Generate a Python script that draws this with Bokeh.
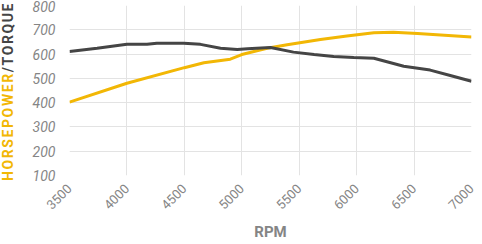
import math
from bokeh.plotting import figure
from bokeh.models import Range1d, FixedTicker, Div
from bokeh.layouts import row
from bokeh.embed import file_html
from bokeh.resources import INLINE

rpm_torque = [3500, 3740, 4000, 4175, 4260, 4495, 4640, 4815, 4960, 5050, 5250, 5450, 5630, 5800, 5975, 6150, 6410, 6640, 6815, 7000]
torque = [611, 624, 640, 640, 645, 645, 640, 624, 619, 622, 627, 608, 598, 590, 586, 583, 550, 534, 512, 488]

rpm_hp = [3500, 4000, 4500, 4670, 4900, 5000, 5220, 5395, 5685, 5915, 6150, 6320, 6530, 7000]
horsepower = [402, 480, 544, 564, 579, 598, 624, 638, 660, 674, 688, 690, 685, 670]

x_ticks = [3500, 4000, 4500, 5000, 5500, 6000, 6500, 7000]
y_ticks = [100, 200, 300, 400, 500, 600, 700, 800]

HP_COLOR = "#f2b705"
TQ_COLOR = "#454545"
LABEL_GRAY = "#858585"

TITLE_W = 17

p = figure(width=482 - TITLE_W, height=244, output_backend="svg", toolbar_location=None,
           x_range=Range1d(3500, 7000), y_range=Range1d(100, 800),
           min_border_left=69 - TITLE_W, min_border_right=11, min_border_top=5, min_border_bottom=69)
p.outline_line_color = None

p.line(rpm_hp, horsepower, line_color=HP_COLOR, line_width=3)
p.line(rpm_torque, torque, line_color=TQ_COLOR, line_width=3)

for ax in (p.xaxis[0], p.yaxis[0]):
    ax.axis_line_color = None
    ax.major_tick_line_color = None
    ax.minor_tick_line_color = None
    ax.major_label_text_color = LABEL_GRAY
    ax.major_label_text_font = "Roboto"

p.xaxis.ticker = FixedTicker(ticks=x_ticks)
p.yaxis.ticker = FixedTicker(ticks=y_ticks)
p.xaxis.major_label_orientation = math.radians(45)
p.xaxis.major_label_text_font_size = "13px"
p.yaxis.major_label_text_font_size = "14px"
p.yaxis.major_label_text_font_style = "italic"
p.yaxis.major_label_standoff = 8

p.xaxis.axis_label = "RPM"
p.xaxis.axis_label_text_font = "Roboto"
p.xaxis.axis_label_text_font_style = "bold"
p.xaxis.axis_label_text_font_size = "15px"
p.xaxis.axis_label_text_color = LABEL_GRAY
p.xaxis.axis_label_standoff = 6

p.xgrid.grid_line_color = "#e3e3e3"
p.ygrid.grid_line_color = "#e3e3e3"

title_html = (
    '<div style="position:absolute;left:0;top:0;width:%dpx;height:181px;'
    'writing-mode:vertical-rl;transform:rotate(180deg);text-align:left;'
    'font-family:Roboto;font-weight:bold;font-size:14px;letter-spacing:1.6px;'
    'line-height:%dpx;white-space:nowrap;">'
    '<span style="color:%s">HORSEPOWER</span><span style="color:%s">/TORQUE</span></div>'
    % (TITLE_W, TITLE_W, HP_COLOR, TQ_COLOR)
)
ytitle = Div(text=title_html, width=TITLE_W, height=244, margin=0)

layout = row(ytitle, p, spacing=0)
open("out.html", "w").write(file_html(layout, INLINE))
